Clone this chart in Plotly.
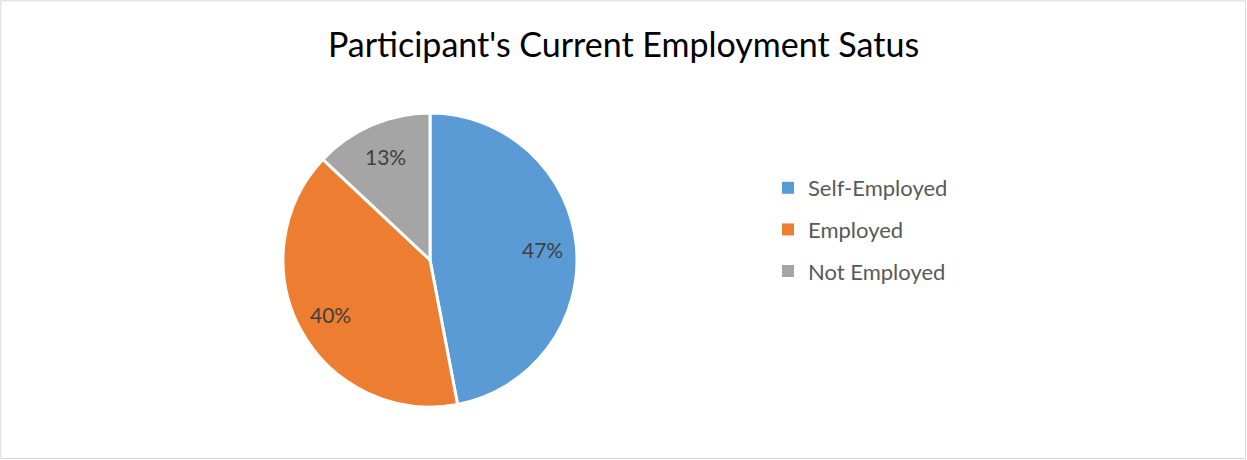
import math
import plotly.graph_objects as go

categories = ["Self-Employed", "Employed", "Not Employed"]
values = [47, 40, 13]
colors = ["#5B9BD5", "#ED7D31", "#A5A5A5"]
title_text = "Participant's Current Employment Satus"

W, H = 1247, 460
cx, cy, R = 430, 260, 147

fig = go.Figure()
fig.add_trace(go.Pie(
    labels=categories, values=values, sort=False, direction="clockwise", rotation=0,
    marker=dict(colors=colors, line=dict(color="white", width=3)),
    textinfo="none",
    showlegend=False, hoverinfo="label+percent",
    domain=dict(x=[(cx - R) / W, (cx + R) / W], y=[(H - cy - R) / H, (H - cy + R) / H]),
))

# percentage labels placed along each slice's mid-angle
total = sum(values)
annotations = []
cum = 0
for v in values:
    mid = (cum + v / 2) / total * 2 * math.pi
    cum += v
    r = 0.77 * R
    px = cx + r * math.sin(mid)
    py = cy - r * math.cos(mid)
    annotations.append(dict(
        x=px / W, y=1 - py / H, xref="paper", yref="paper", showarrow=False,
        text=f"{round(v / total * 100)}%", xanchor="center", yanchor="middle",
        font=dict(family="Lato", size=21, color="#404040"),
    ))

for i, (c, col) in enumerate(zip(categories, colors)):
    fig.add_trace(go.Scatter(
        x=[None], y=[None], mode="markers", name=c, legendgroup=str(i),
        marker=dict(symbol="square", size=8, color=col),
    ))

fig.update_layout(
    width=W, height=H, margin=dict(l=0, r=0, t=0, b=0),
    paper_bgcolor="white", plot_bgcolor="white",
    xaxis=dict(visible=False), yaxis=dict(visible=False),
    title=dict(text=title_text, x=0.5, xanchor="center", y=1 - 45 / H, yanchor="middle",
               font=dict(family="Lato", size=34, color="#000000")),
    legend=dict(x=768 / W, xanchor="left", y=1 - 167 / H, yanchor="top",
                font=dict(family="Lato", size=22, color="#595959"),
                tracegroupgap=10, itemsizing="constant", bgcolor="rgba(0,0,0,0)"),
    annotations=annotations,
    shapes=[dict(type="rect", xref="paper", yref="paper", x0=0.8 / W, x1=1 - 1.5 / W,
                 y0=1.5 / H, y1=1 - 0.8 / H, line=dict(color="#D9D9D9", width=1))],
)
fig.write_html("out.html")
